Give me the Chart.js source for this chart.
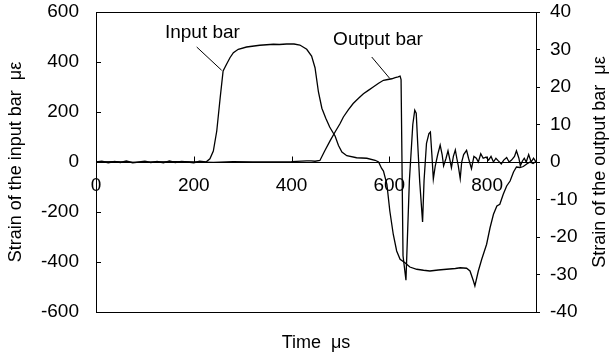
<!DOCTYPE html>
<html>
<head>
<meta charset="utf-8">
<script src="https://cdn.jsdelivr.net/npm/chart.js@4"></script>
<style>
  html, body { margin: 0; padding: 0; background: #fff; }
  canvas { display: block; }
</style>
</head>
<body>
<canvas id="grafico" width="610" height="358"></canvas>
<script>
// Input bar strain (left axis, με) against time (μs)
const inputTime = [0, 12, 25, 38, 50, 62, 75, 88, 100, 112, 125, 138, 150, 162, 175, 188, 200, 212, 225, 233,
  240, 247, 254, 260, 267, 274, 281, 291, 308, 335, 363, 375, 390, 405, 417, 431, 441, 448, 455, 462,
  470, 478, 484, 489, 496, 503, 513, 533, 554, 571, 578, 584, 588, 595, 601, 608, 615, 622, 632, 642,
  656, 670, 683, 700, 717, 735, 745, 758, 765, 772, 775, 782, 789, 799, 806, 813, 820, 826, 833, 840,
  847, 854, 860, 867, 874, 881, 888, 894, 900];
const inputStrain = [0, 3, -3, 2, -2, 4, -3, 0, 3, -2, 2, -3, 4, -2, 2, 0, -3, 3, 0, 13,
  44, 124, 257, 364, 391, 417, 437, 451, 460, 467, 471, 470, 472, 472, 468, 451, 424, 377, 280, 215,
  175, 140, 120, 104, 66, 40, 25, 17, 15, 7, 0, -25, -36, -89, -196, -289, -356, -389, -403, -420,
  -429, -433, -436, -432, -429, -426, -423, -425, -436, -476, -496, -436, -389, -329, -263, -209, -176, -169, -129, -96,
  -76, -40, -20, -22, -18, -8, 0, -6, 2];

// Output bar strain (right axis, με)
const outputTime = [0, 40, 80, 120, 160, 200, 240, 280, 320, 360, 400, 431, 440, 448, 458, 468, 479, 489, 499, 506,
  516, 526, 537, 547, 557, 567, 578, 588, 597, 605, 612, 618, 622, 624, 628, 634, 641, 648, 652, 655,
  658, 662, 668, 671, 676, 681, 684, 687, 690, 694, 699, 704, 708, 711, 716, 720, 724, 727, 731, 735,
  738, 741, 745, 748, 752, 758, 762, 768, 773, 778, 782, 787, 792, 798, 803, 808, 813, 818, 823, 829,
  834, 840, 845, 850, 856, 860, 865, 868, 872, 876, 880, 885, 890, 895, 900];
const outputStrain = [0, 0.1, -0.1, 0, 0.1, 0, -0.1, 0.1, 0, 0, 0.1, 0.3, 0.3, 0.2, 0.4, 3, 5.7, 8, 10.2, 12,
  13.9, 15.6, 17, 18.2, 19.1, 20, 21, 21.8, 22, 22.2, 22.5, 22.7, 22.9, 22, -25, -31.5, -5, 10, 13.8, 13,
  5, -5, -16, -5, 5, 7.6, 8, 2, -4.5, -1, 2, 4.5, 2, -1, 1, 3, 0.5, -1.5, 1.5, 3.2,
  1, -1, -4.4, 0, 2, 3.1, 1, -1.8, 1.5, 1, 0, 2.2, 1, 1.3, 0.5, 1.5, 0, 1, 0.3, -0.5,
  0.5, 1.2, 0, 0.5, 1.5, 3, 1, -1, 0.2, 1, 0, 2, 0, 1, 0];

const timeTicks = [0, 200, 400, 600, 800];
const inputTicks = [-600, -400, -200, 0, 200, 400, 600];
const outputTicks = [-40, -30, -20, -10, 0, 10, 20, 30, 40];

// text labels with leader lines, in data units of the left axis
const labels = [
  { text: 'Input bar', x: 141, y: 515, from: [206, 460], to: [257, 367] },
  { text: 'Output bar', x: 485, y: 487, from: [564, 420], to: [601, 334] }
];

const FONT = 'Liberation Sans, Arial, sans-serif';
const black = '#000';

const extras = {
  id: 'extras',
  afterDraw(chart) {
    const { ctx, chartArea: a, scales: { x, y } } = chart;
    ctx.save();
    ctx.strokeStyle = black;
    ctx.lineWidth = 1;
    ctx.strokeRect(Math.round(a.left) + 0.5, Math.round(a.top) + 0.5,
      Math.round(a.right - a.left), Math.round(a.bottom - a.top));

    // inner tick marks: left axis and time axis
    ctx.beginPath();
    inputTicks.forEach(v => {
      const py = Math.round(y.getPixelForValue(v)) + 0.5;
      ctx.moveTo(a.left, py);
      ctx.lineTo(a.left + 5, py);
    });
    const y0 = Math.round(y.getPixelForValue(0)) + 0.5;
    timeTicks.forEach(v => {
      const px = Math.round(x.getPixelForValue(v)) + 0.5;
      ctx.moveTo(px, y0);
      ctx.lineTo(px, y0 - 6);
    });
    ctx.stroke();

    // curve labels
    ctx.fillStyle = black;
    ctx.font = '19px ' + FONT;
    ctx.textBaseline = 'middle';
    ctx.textAlign = 'left';
    labels.forEach(l => {
      ctx.fillText(l.text, x.getPixelForValue(l.x), y.getPixelForValue(l.y));
      ctx.beginPath();
      ctx.moveTo(x.getPixelForValue(l.from[0]), y.getPixelForValue(l.from[1]));
      ctx.lineTo(x.getPixelForValue(l.to[0]), y.getPixelForValue(l.to[1]));
      ctx.stroke();
    });

    // axis titles
    const midY = (a.top + a.bottom) / 2;
    ctx.font = '18px ' + FONT;
    ctx.textAlign = 'center';
    ctx.fillText('Time  μs', (a.left + a.right) / 2, 343);

    ctx.save();
    ctx.translate(16, midY);
    ctx.rotate(-Math.PI / 2);
    ctx.fillText('Strain of the input bar  με', 0, 0);
    ctx.restore();

    ctx.save();
    ctx.translate(600, midY);
    ctx.rotate(-Math.PI / 2);
    ctx.fillText('Strain of the output bar  με', 0, 0);
    ctx.restore();

    ctx.restore();
  }
};

const ctx = document.getElementById('grafico');

// y axes: fixed widths and no extra room for the end labels
const fixAxis = w => s => { s.width = w; s.paddingTop = 0; s.paddingBottom = 0; };

let chart = new Chart(ctx, {
  type: 'line',
  data: {
    datasets: [{
      label: 'Input bar',
      data: inputTime.map((t, i) => ({ x: t, y: inputStrain[i] })),
      yAxisID: 'y',
      borderColor: black,
      borderWidth: 1.3,
      pointRadius: 0,
      tension: 0
    }, {
      label: 'Output bar',
      data: outputTime.map((t, i) => ({ x: t, y: outputStrain[i] })),
      yAxisID: 'y1',
      borderColor: black,
      borderWidth: 1.3,
      pointRadius: 0,
      tension: 0
    }]
  },
  options: {
    responsive: false,
    animation: false,
    layout: { padding: { top: 12, bottom: 46, left: 0, right: 0 } },
    plugins: { legend: { display: false }, tooltip: { enabled: false } },
    scales: {
      x: {
        type: 'linear',
        min: 0,
        max: 900,
        position: { y: 0 },
        afterBuildTicks: s => { s.ticks = timeTicks.map(v => ({ value: v })); },
        ticks: { color: black, font: { family: FONT, size: 19 }, padding: 12, maxRotation: 0 },
        grid: { drawOnChartArea: false, drawTicks: false },
        border: { color: black, width: 1 }
      },
      y: {
        position: 'left',
        min: -600,
        max: 600,
        afterBuildTicks: s => { s.ticks = inputTicks.map(v => ({ value: v })); },
        afterFit: fixAxis(96),
        ticks: { color: black, font: { family: FONT, size: 19 }, padding: 17 },
        grid: { drawOnChartArea: false, drawTicks: false },
        border: { color: black, width: 1 }
      },
      y1: {
        position: 'right',
        min: -40,
        max: 40,
        afterBuildTicks: s => { s.ticks = outputTicks.map(v => ({ value: v })); },
        afterFit: fixAxis(74),
        ticks: { color: black, font: { family: FONT, size: 19 }, padding: 10 },
        grid: { drawOnChartArea: false, tickLength: 4, color: black },
        border: { color: black, width: 1 }
      }
    }
  },
  plugins: [extras]
});
</script>
</body>
</html>
